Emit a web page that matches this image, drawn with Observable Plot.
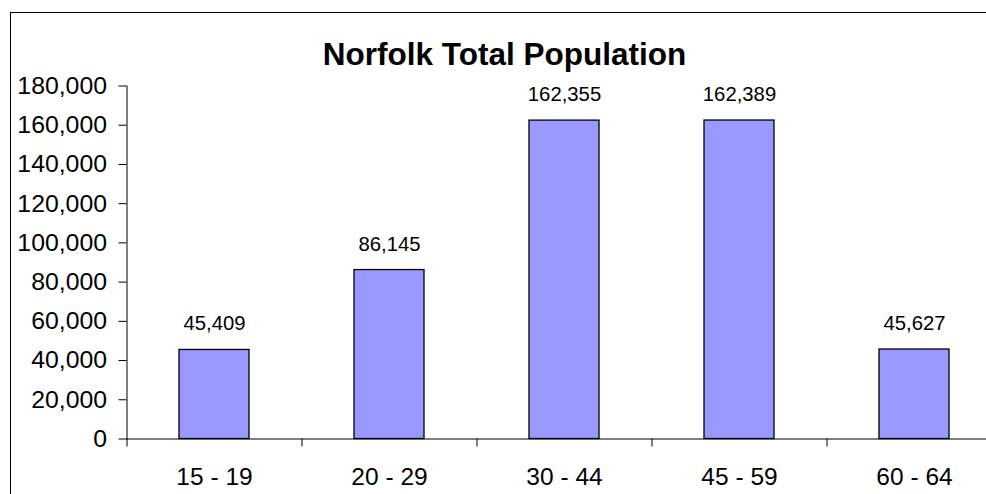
<!DOCTYPE html>
<html>
<head>
<meta charset="utf-8">
<script src="https://cdn.jsdelivr.net/npm/d3@7"></script>
<script src="https://cdn.jsdelivr.net/npm/@observablehq/plot@0.6"></script>
<style>
  html, body { margin: 0; padding: 0; background: #fff; overflow: hidden; }
  #wrap { position: relative; width: 986px; height: 494px; overflow: hidden; }
  #box { position: absolute; left: 10px; top: 12px; width: 2000px; height: 1000px;
         border: 1.5px solid #000; box-sizing: border-box; pointer-events: none; }
  #title { position: absolute; left: 0; width: 1009px; top: 39px; text-align: center;
           font-family: "Liberation Sans", Arial, sans-serif; font-weight: bold;
           font-size: 31.5px; line-height: 31.5px; color: #000; }
  #chart { position: absolute; left: 0; top: 0; }
</style>
</head>
<body>
<div id="wrap">
  <div id="chart"></div>
  <div id="title">Norfolk Total Population</div>
  <div id="box"></div>
</div>
<script>
// Norfolk population by age band
const ageBands = ["15 - 19", "20 - 29", "30 - 44", "45 - 59", "60 - 64"];
const population = [45409, 86145, 162355, 162389, 45627];
const yTicks = [0, 20000, 40000, 60000, 80000, 100000, 120000, 140000, 160000, 180000];

const rows = ageBands.map((band, i) => ({band, value: population[i]}));

const xRange = [126.5, 1001.5];
const step = (xRange[1] - xRange[0]) / ageBands.length;
const fmt = d3.format(",");

const chart = Plot.plot({
  width: 986,
  height: 494,
  marginTop: 85.5,
  marginBottom: 55.5,
  marginLeft: 126.5,
  marginRight: 0,
  style: {fontFamily: "'Liberation Sans', Arial, sans-serif", fontSize: "24px", color: "#000", background: "transparent"},
  x: {type: "band", domain: ageBands, range: xRange, paddingInner: 0.6, paddingOuter: 0.3, axis: null},
  y: {domain: [0, 180000], axis: null},
  marks: [
    Plot.barY(rows, {x: "band", y: "value", fill: "#9999ff", stroke: "#000", strokeWidth: 1.3}),
    Plot.text(rows, {x: "band", y: "value", text: d => fmt(d.value), dy: -26, fontSize: 20.3, fill: "#000"}),
    // y axis
    Plot.axisY({ticks: yTicks, tickFormat: fmt, tickSize: 8, tickPadding: 12, fontSize: 24.8, stroke: "#000", label: null}),
    Plot.frame({anchor: "left", stroke: "#000"}),
    // x axis: labels centred on bands, ticks between bands
    Plot.axisX({tickSize: 0, tickPadding: 28.5, fontSize: 24.5, label: null}),
    Plot.ruleY([0], {stroke: "#000"}),
    Plot.ruleX(ageBands, {x: d => d, dx: -step / 2, y1: 0, y2: 0, insetBottom: -8, stroke: "#000"})
  ]
});
document.getElementById("chart").appendChild(chart);
</script>
</body>
</html>
